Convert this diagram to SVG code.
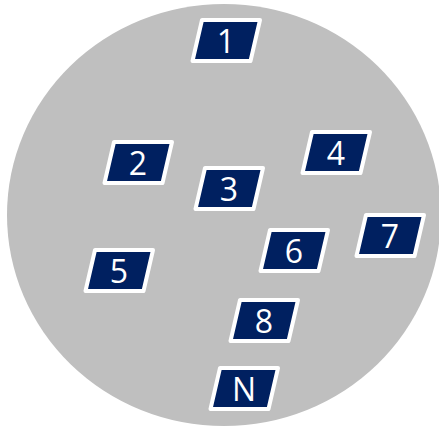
<svg xmlns="http://www.w3.org/2000/svg" xmlns:xlink="http://www.w3.org/1999/xlink" width="439" height="426" viewBox="0 0 439 426">
<style>
.box{fill:#002060;stroke:#ffffff;stroke-width:4;stroke-linejoin:round}
.lbl{fill:#ffffff;font-family:"Open Sans","Liberation Sans",sans-serif;font-size:32px;text-anchor:middle}
</style>
<defs>
<polygon id="shape" class="box" points="2,2 60,2 50.5,43 -7.5,43"/>
</defs>
<ellipse id="circle" cx="224" cy="215" rx="217" ry="211" fill="#bfbfbf"/>
<g id="connectors"></g>
<g id="n1" transform="translate(200,18)"><use xlink:href="#shape"/><text class="lbl" x="26" y="34.5">1</text></g>
<g id="n2" transform="translate(112,140)"><use xlink:href="#shape"/><text class="lbl" x="26" y="34.5">2</text></g>
<g id="n3" transform="translate(203,166)"><use xlink:href="#shape"/><text class="lbl" x="26" y="34.5">3</text></g>
<g id="n4" transform="translate(310,130)"><use xlink:href="#shape"/><text class="lbl" x="26" y="34.5">4</text></g>
<g id="n5" transform="translate(93,248)"><use xlink:href="#shape"/><text class="lbl" x="26" y="34.5">5</text></g>
<g id="n6" transform="translate(268,228)"><use xlink:href="#shape"/><text class="lbl" x="26" y="34.5">6</text></g>
<g id="n7" transform="translate(364,213)"><use xlink:href="#shape"/><text class="lbl" x="26" y="34.5">7</text></g>
<g id="n8" transform="translate(238,298)"><use xlink:href="#shape"/><text class="lbl" x="26" y="34.5">8</text></g>
<g id="nN" transform="translate(218,366)"><use xlink:href="#shape"/><text class="lbl" x="26" y="34.5">N</text></g>
</svg>
